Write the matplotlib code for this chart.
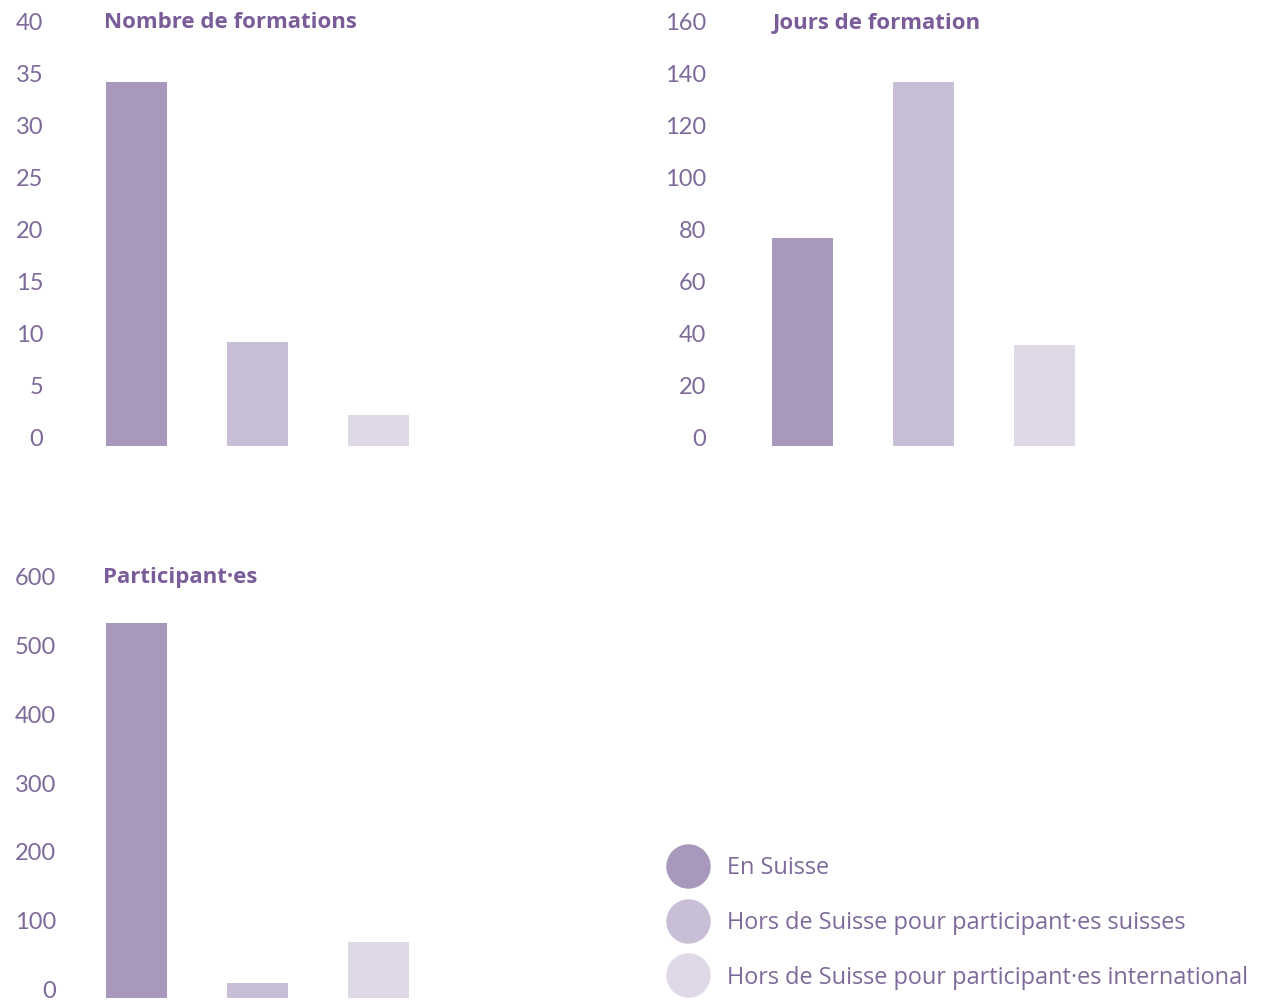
import matplotlib.pyplot as plt
from matplotlib.lines import Line2D

plt.rcParams['font.family'] = ['Lato', 'DejaVu Sans']

# données
categories = ['En Suisse',
              'Hors de Suisse pour participant·es suisses',
              'Hors de Suisse pour participant·es international']
formations = [35, 10, 3]
jours = [80, 140, 39]
participants = [545, 22, 81]

titres = ['Nombre de formations', 'Jours de formation', 'Participant·es']
yticks_1 = [0, 5, 10, 15, 20, 25, 30, 35, 40]
yticks_2 = [0, 20, 40, 60, 80, 100, 120, 140, 160]
yticks_3 = [0, 100, 200, 300, 400, 500, 600]

couleurs = ['#a898bb', '#c8bfd6', '#dfd9e7']
txt_col = '#7d6a9a'
titre_col = '#7a5c99'

W, H = 1262, 1001
fig = plt.figure(figsize=(W / 100, H / 100), dpi=100)


def box(left, right, top, bottom):
    return [left / W, 1 - bottom / H, (right - left) / W, (bottom - top) / H]


def panel(rect, values, ticks, bar0_px, left_px, right_px, title, title_x, title_y):
    ax = fig.add_axes(rect)
    x = range(len(values))
    ax.bar(x, values, width=61 / 121, color=couleurs)
    ax.set_xlim(-(bar0_px - left_px) / 121, (right_px - bar0_px) / 121)
    ax.set_ylim(ticks[0], ticks[-1])
    ax.set_yticks(ticks)
    ax.set_xticks([])
    for s in ax.spines.values():
        s.set_visible(False)
    ax.tick_params(axis='y', length=0, pad=5, labelsize=17, labelcolor=txt_col)
    for lab in ax.get_yticklabels():
        lab.set_verticalalignment('baseline')
    fig.text(title_x / W, 1 - title_y / H, title, fontsize=16, fontweight='bold',
             family=['Open Sans', 'DejaVu Sans'],
             color=titre_col, va='center', ha='left')
    return ax


panel(box(50, 620, 30, 446), formations, yticks_1, 136.5, 50, 620,
      titres[0], 104, 23)
panel(box(713, 1250, 30, 446), jours, yticks_2, 802.5, 713, 1250,
      titres[1], 773, 23)
panel(box(63, 620, 585, 998), participants, yticks_3, 136.5, 63, 620,
      titres[2], 103, 578)

handles = [Line2D([], [], marker='o', linestyle='', markersize=32,
                  markerfacecolor=c, markeredgecolor='none') for c in couleurs]
fig.legend(handles, categories, loc='center left',
           bbox_to_anchor=(666 / W, 1 - 923 / H), frameon=False,
           prop={'family': ['Open Sans', 'DejaVu Sans'], 'size': 16.9},
           labelcolor=txt_col, borderpad=0, borderaxespad=0,
           handlelength=1.9, handletextpad=0.7, labelspacing=1.3)

fig.savefig('out.png', dpi=100)
